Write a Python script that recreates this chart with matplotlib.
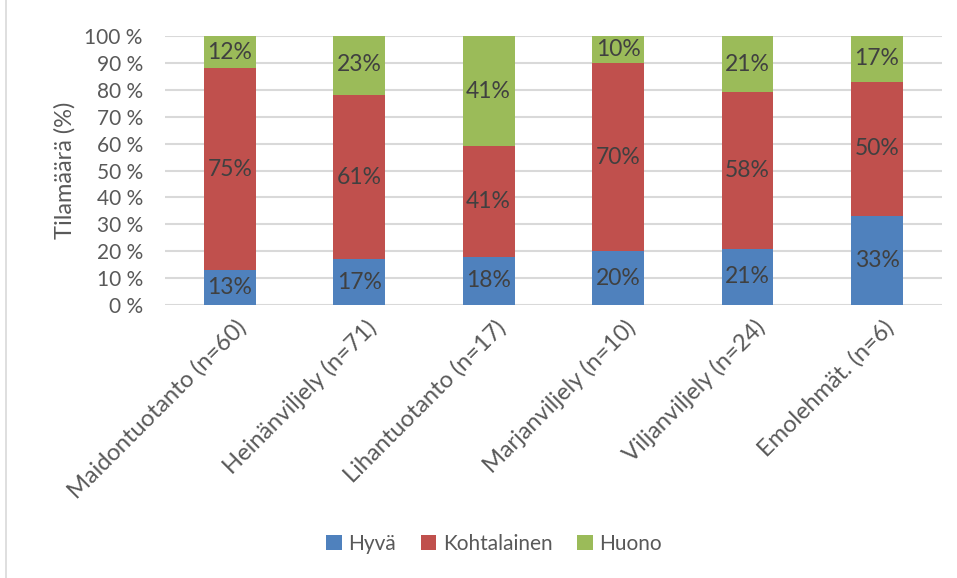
import matplotlib.pyplot as plt
import matplotlib.transforms as mtransforms
import numpy as np
from matplotlib.lines import Line2D

plt.rcParams['font.family'] = ['Lato', 'DejaVu Sans']

categories = ['Maidontuotanto (n=60)', 'Heinänviljely (n=71)', 'Lihantuotanto (n=17)',
              'Marjanviljely (n=10)', 'Viljanviljely (n=24)', 'Emolehmät. (n=6)']
hyva = [13, 17, 18, 20, 21, 33]
kohtalainen = [75, 61, 41, 70, 58, 50]
huono = [12, 23, 41, 10, 21, 17]
series_names = ['Hyvä', 'Kohtalainen', 'Huono']
colors = ['#4F81BD', '#C0504D', '#9BBB59']

text_col = '#595959'
label_col = '#404040'

fig = plt.figure(figsize=(9.57, 5.78), dpi=100)
ax = fig.add_axes([0.1724, 0.4723, 0.984 - 0.1724, 0.9377 - 0.4723])

x = np.arange(len(categories))
bottom = np.zeros(len(categories))
for name, vals, c in zip(series_names, [hyva, kohtalainen, huono], colors):
    vals = np.array(vals, dtype=float)
    ax.bar(x, vals, 0.4, bottom=bottom, color=c, label=name, zorder=3)
    # prosenttiluvut palkkien keskelle
    for xi, b, v in zip(x, bottom, vals):
        ax.text(xi, b + v / 2, f'{int(v)}%', ha='center', va='center',
                fontsize=16.5, color=label_col, zorder=4)
    bottom += vals

ax.set_xlim(-0.5, len(categories) - 0.5)
ax.set_ylim(0, 100)
ax.set_yticks(range(0, 101, 10))
ax.set_yticklabels([f'{t} %' for t in range(0, 101, 10)])
ax.yaxis.grid(True, color='#D9D9D9', linewidth=1.5, zorder=0)
ax.set_axisbelow(True)
for s in ax.spines.values():
    s.set_visible(False)
ax.tick_params(axis='both', length=0, colors=text_col, labelsize=15)
ax.tick_params(axis='y', pad=16)
ax.set_xticks(x)
ax.set_xticklabels(categories, rotation=45, ha='right', rotation_mode='anchor', fontsize=17)
ax.tick_params(axis='x', pad=8)
# siirretään kategorianimiä hieman oikealle
offset = mtransforms.ScaledTranslation(6 / 100, 0, fig.dpi_scale_trans)
for lbl in ax.get_xticklabels():
    lbl.set_transform(lbl.get_transform() + offset)
ax.set_ylabel('Tilamäärä (%)', fontsize=17, color=text_col, labelpad=6)

fig.legend(loc='center', bbox_to_anchor=(494 / 957, 1 - 544 / 578), ncol=3, frameon=False,
           fontsize=15, labelcolor=text_col, handlelength=0.75, handleheight=0.75,
           handletextpad=0.3, columnspacing=1.2)

fig.add_artist(Line2D([6 / 957, 6 / 957], [0, 1], color='#D9D9D9', linewidth=1.2))

fig.savefig('out.png', dpi=100)
